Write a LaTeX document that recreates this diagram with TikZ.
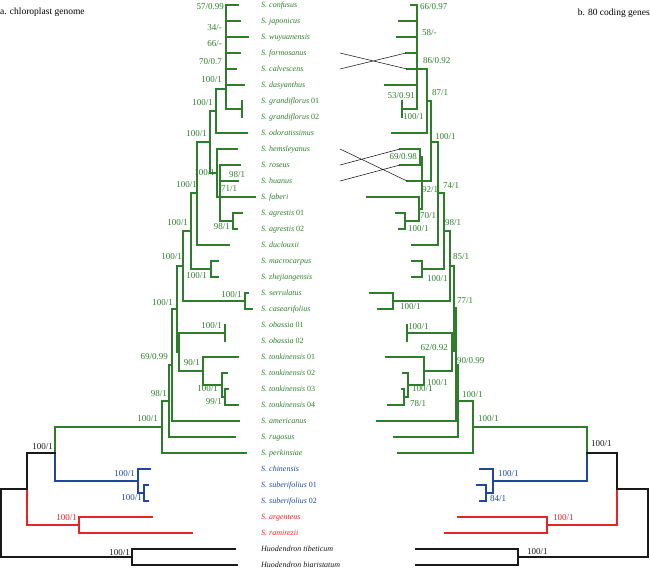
\documentclass[tikz,border=0pt]{standalone}
\usepackage{fontspec}
\setmainfont{Liberation Serif}
\definecolor{cg}{RGB}{45,125,45}
\definecolor{cb}{RGB}{35,70,155}
\definecolor{cr}{RGB}{232,35,35}
\definecolor{ck}{RGB}{25,25,25}
\begin{document}
\begin{tikzpicture}[x=1pt,y=-1pt,
  tl/.style={line width=1.3pt,line cap=rect},
  g/.style={tl,draw=cg},
  b/.style={tl,draw=cb},
  r/.style={tl,draw=cr},
  k/.style={tl,draw=ck},
  tangle/.style={draw=ck,line width=0.55pt},
  taxon/.style={anchor=base west,inner sep=0pt,font=\fontsize{8}{9}\selectfont},
  supl/.style={anchor=base east,inner sep=0pt,font=\fontsize{9}{10}\selectfont},
  supr/.style={anchor=base west,inner sep=0pt,font=\fontsize{9}{10}\selectfont},
  hdr/.style={inner sep=0pt,font=\fontsize{9.5}{11}\selectfont}]
\useasboundingbox (0,0) rectangle (650,569);
% headers
\node[hdr,anchor=base west] (ha) at (0,15) {a. chloroplast genome};
\node[hdr,anchor=base east] (hb) at (650,16) {b. 80 coding genes};
% taxon labels
\begin{scope}[every node/.style={taxon}]
\node[text=cg] (t0) at (261,7.8) {\textit{S. confusus}};
\node[text=cg] (t1) at (261,23.8) {\textit{S. japonicus}};
\node[text=cg] (t2) at (261,39.8) {\textit{S. wuyuanensis}};
\node[text=cg] (t3) at (261,55.8) {\textit{S. formosanus}};
\node[text=cg] (t4) at (261,71.8) {\textit{S. calvescens}};
\node[text=cg] (t5) at (261,87.8) {\textit{S. dasyanthus}};
\node[text=cg] (t6) at (261,103.8) {\textit{S. grandiflorus} 01};
\node[text=cg] (t7) at (261,119.8) {\textit{S. grandiflorus} 02};
\node[text=cg] (t8) at (261,135.8) {\textit{S. odoratissimus}};
\node[text=cg] (t9) at (261,151.8) {\textit{S. hemsleyanus}};
\node[text=cg] (t10) at (261,167.8) {\textit{S. roseus}};
\node[text=cg] (t11) at (261,183.8) {\textit{S. huanus}};
\node[text=cg] (t12) at (261,199.8) {\textit{S. faberi}};
\node[text=cg] (t13) at (261,215.8) {\textit{S. agrestis} 01};
\node[text=cg] (t14) at (261,231.8) {\textit{S. agrestis} 02};
\node[text=cg] (t15) at (261,247.8) {\textit{S. duclouxii}};
\node[text=cg] (t16) at (261,263.8) {\textit{S. macrocarpus}};
\node[text=cg] (t17) at (261,279.8) {\textit{S. zhejiangensis}};
\node[text=cg] (t18) at (261,295.8) {\textit{S. serrulatus}};
\node[text=cg] (t19) at (261,311.8) {\textit{S. casearifolius}};
\node[text=cg] (t20) at (261,327.8) {\textit{S. obassia} 01};
\node[text=cg] (t21) at (261,343.8) {\textit{S. obassia} 02};
\node[text=cg] (t22) at (261,359.8) {\textit{S. tonkinensis} 01};
\node[text=cg] (t23) at (261,375.8) {\textit{S. tonkinensis} 02};
\node[text=cg] (t24) at (261,391.8) {\textit{S. tonkinensis} 03};
\node[text=cg] (t25) at (261,407.8) {\textit{S. tonkinensis} 04};
\node[text=cg] (t26) at (261,423.8) {\textit{S. americanus}};
\node[text=cg] (t27) at (261,439.8) {\textit{S. rugosus}};
\node[text=cg] (t28) at (261,455.8) {\textit{S. perkinsiae}};
\node[text=cb] (t29) at (261,471.8) {\textit{S. chinensis}};
\node[text=cb] (t30) at (261,487.8) {\textit{S. suberifolius} 01};
\node[text=cb] (t31) at (261,503.8) {\textit{S. suberifolius} 02};
\node[text=cr] (t32) at (261,519.8) {\textit{S. argenteus}};
\node[text=cr] (t33) at (261,535.8) {\textit{S. ramirezii}};
\node[text=ck] (t34) at (261,551.8) {\textit{Huodendron tibeticum}};
\node[text=ck] (t35) at (261,567.8) {\textit{Huodendron biaristatum}};
\end{scope}
% ================= LEFT TREE =================
\draw[g] (226,5)--(226,109);
\draw[g] (226,5)--(238,5) (226,21)--(240,21) (226,37)--(248,37) (226,53)--(240,53) (226,69)--(236,69) (226,85)--(244,85);
\draw[g] (226,109)--(242,109) (242,101)--(242,117);
\draw[g] (216,89)--(226,89) (216,89)--(216,133) (216,133)--(247,133);
\draw[g] (210,111)--(216,111) (210,111)--(210,173);
\draw[g] (197,142)--(210,142);
\draw[g] (210,173)--(217,173) (217,149)--(217,197) (217,149)--(237,149);
\draw[g] (220,165)--(220,221) (220,165)--(240,165) (220,181)--(238,181) (217,197)--(255,197);
\draw[g] (220,221)--(233,221) (233,213)--(233,229) (233,213)--(242,213) (233,229)--(237,229);
\draw[g] (197,142)--(197,245) (197,245)--(229,245) (191,193)--(197,193);
\draw[g] (191,193)--(191,269) (191,269)--(211,269) (211,261)--(211,277) (211,261)--(218,261) (211,277)--(218,277);
\draw[g] (183,231)--(191,231) (183,231)--(183,301) (183,301)--(245,301) (245,293)--(245,309) (245,293)--(248,293) (245,309)--(252,309);
\draw[g] (177,266)--(183,266) (177,266)--(177,352) (177,352)--(179,352);
\draw[g] (179,333)--(179,371) (179,333)--(225,333) (225,325)--(225,341);
\draw[g] (179,371)--(203,371) (203,357)--(203,385) (203,357)--(238,357) (203,385)--(222,385);
\draw[g] (222,373)--(222,397) (222,373)--(227,373) (222,397)--(225,397) (225,389)--(225,405) (225,389)--(228,389) (225,405)--(238,405);
\draw[g] (172,309)--(177,309) (172,309)--(172,421) (172,421)--(239,421);
\draw[g] (169,365)--(172,365) (169,365)--(169,437) (169,437)--(235,437);
\draw[g] (162,401)--(169,401) (162,401)--(162,453) (162,453)--(246,453);
\draw[g] (55,427)--(162,427) (55,427)--(55,453);
\draw[b] (55,453)--(55,481) (55,481)--(138,481) (138,469)--(138,493) (138,469)--(150,469);
\draw[b] (138,493)--(144,493) (144,485)--(144,501) (144,485)--(148,485) (144,501)--(148,501);
\draw[k] (27,453)--(55,453) (27,453)--(27,489);
\draw[r] (27,489)--(27,525) (27,525)--(79,525) (79,517)--(79,533) (79,517)--(152,517) (79,533)--(192,533);
\draw[k] (1,489)--(27,489) (1,489)--(1,557) (1,557)--(132,557) (132,549)--(132,565) (132,549)--(235,549) (132,565)--(237,565);
% left support values
\begin{scope}[every node/.style={supl,text=cg}]
\node (l1) at (224,10) {57/0.99};
\node (l2) at (222,31) {34/-};
\node (l3) at (222,47) {66/-};
\node (l4) at (222,65) {70/0.7};
\node (l5) at (222,83) {100/1};
\node (l6) at (213,106) {100/1};
\node (l7) at (207,137) {100/1};
\node (l8) at (215,176) {100/1};
\node (l10) at (197,188) {100/1};
\node (l11) at (230,230) {98/1};
\node (l12) at (188,226) {100/1};
\node (l13) at (182,260) {100/1};
\node (l14) at (207,278) {100/1};
\node (l15) at (242,297) {100/1};
\node (l16) at (173,305) {100/1};
\node (l17) at (222,328) {100/1};
\node (l18) at (200,365) {90/1};
\node (l19) at (218,391) {100/1};
\node (l20) at (222,404) {99/1};
\node (l21) at (168,359) {69/0.99};
\node (l22) at (167,396) {98/1};
\node (l23) at (158,421) {100/1};
\end{scope}
\node[supr,text=cg] (l9) at (229,178) {98/1};
\node[supr,text=cg] (l9b) at (221,192) {71/1};
\node[supl,text=ck] (l24) at (53,449) {100/1};
\node[supl,text=cb] (l25) at (135,476) {100/1};
\node[supl,text=cb] (l26) at (142,500) {100/1};
\node[supl,text=cr] (l27) at (77,520) {100/1};
\node[supl,text=ck] (l28) at (130,555) {100/1};
% ================= RIGHT TREE =================
\draw[g] (417,5)--(417,109);
\draw[g] (411,5)--(417,5) (399,21)--(417,21) (397,37)--(417,37) (406,53)--(417,53) (385,85)--(417,85);
\draw[g] (402,109)--(417,109) (402,101)--(402,117);
\draw[g] (407,69)--(427,69) (427,69)--(427,133) (392,133)--(427,133) (427,101)--(431,101);
\draw[g] (431,101)--(431,181) (431,142)--(438,142) (407,181)--(431,181);
\draw[g] (422,157)--(422,209) (420,149)--(420,165) (400,149)--(420,149) (400,165)--(420,165) (420,157)--(422,157);
\draw[g] (419,197)--(419,221) (367,197)--(419,197) (419,209)--(422,209);
\draw[g] (405,213)--(405,229) (396,213)--(405,213) (399,229)--(405,229) (405,221)--(419,221);
\draw[g] (438,142)--(438,245) (412,245)--(438,245) (438,193)--(444,193);
\draw[g] (444,193)--(444,269) (422,261)--(422,277) (412,261)--(422,261) (412,277)--(422,277) (422,269)--(444,269) (444,231)--(450,231);
\draw[g] (450,231)--(450,301) (393,293)--(393,309) (370,293)--(393,293) (378,309)--(393,309) (393,301)--(450,301) (450,266)--(454,266);
\draw[g] (454,266)--(454,351) (452,351)--(454,351) (452,333)--(452,371) (407,325)--(407,341) (407,333)--(452,333);
\draw[g] (424,357)--(424,385) (386,357)--(424,357) (424,371)--(452,371);
\draw[g] (408,373)--(408,397) (403,373)--(408,373) (408,385)--(424,385);
\draw[g] (404,389)--(404,405) (402,389)--(404,389) (388,405)--(404,405) (404,397)--(408,397);
\draw[g] (454,308)--(456,308) (456,308)--(456,421) (377,421)--(456,421) (456,365)--(458,365);
\draw[g] (458,365)--(458,437) (394,437)--(458,437) (458,401)--(473,401);
\draw[g] (473,401)--(473,453) (398,453)--(473,453) (473,427)--(587,427) (587,427)--(587,453);
\draw[b] (587,453)--(587,481) (493,481)--(587,481) (493,469)--(493,493) (480,469)--(493,469);
\draw[b] (486,493)--(493,493) (486,485)--(486,501) (477,485)--(486,485) (480,501)--(486,501);
\draw[k] (587,453)--(617,453) (617,453)--(617,489);
\draw[r] (617,489)--(617,525) (547,525)--(617,525) (547,517)--(547,533) (458,517)--(547,517) (445,533)--(547,533);
\draw[k] (617,489)--(648,489) (648,489)--(648,557) (518,557)--(648,557) (518,549)--(518,565) (416,549)--(518,549) (416,565)--(518,565);
% right support values
\begin{scope}[every node/.style={supr,text=cg}]
\node (r1) at (420,10) {66/0.97};
\node (r2) at (422,36) {58/-};
\node (r3) at (423,64) {86/0.92};
\node (r5) at (403,120) {100/1};
\node (r6) at (432,96) {87/1};
\node (r7) at (435,140) {100/1};
\node (r9) at (422,193) {92/1};
\node (r10) at (443,189) {74/1};
\node (r11) at (420,219) {70/1};
\node (r12) at (408,232) {100/1};
\node (r13) at (445,226) {98/1};
\node (r14) at (453,259) {85/1};
\node (r15) at (427,281) {100/1};
\node (r16) at (457,303) {77/1};
\node (r17) at (400,309) {100/1};
\node (r18) at (408,329) {100/1};
\node (r20) at (457,363) {90/0.99};
\node (r21) at (427,385) {100/1};
\node (r22) at (412,391) {100/1};
\node (r23) at (410,406) {78/1};
\node (r24) at (462,397) {100/1};
\node (r25) at (478,421) {100/1};
\end{scope}
\node[supl,text=cg] (r4) at (415,99) {53/0.91};
\node[supl,text=cg] (r8) at (417,160) {69/0.98};
\node[supl,text=cg] (r19) at (448,350) {62/0.92};
\node[supr,text=ck] (r26) at (591,446) {100/1};
\node[supr,text=cb] (r27) at (498,476) {100/1};
\node[supr,text=cb] (r28) at (490,501) {84/1};
\node[supr,text=cr] (r29) at (553,520) {100/1};
\node[supr,text=ck] (r30) at (527,554) {100/1};
% tangle connectors
\coordinate (f1) at (340,53); \coordinate (f2) at (407,69);
\coordinate (c1) at (340,69); \coordinate (c2) at (406,53);
\coordinate (h1) at (340,149); \coordinate (h2) at (407,181);
\coordinate (o1) at (340,165); \coordinate (o2) at (400,149);
\coordinate (u1) at (340,181); \coordinate (u2) at (400,165);
\draw[tangle] (f1)--(f2) (c1)--(c2) (h1)--(h2) (o1)--(o2) (u1)--(u2);
\end{tikzpicture}
\end{document}
